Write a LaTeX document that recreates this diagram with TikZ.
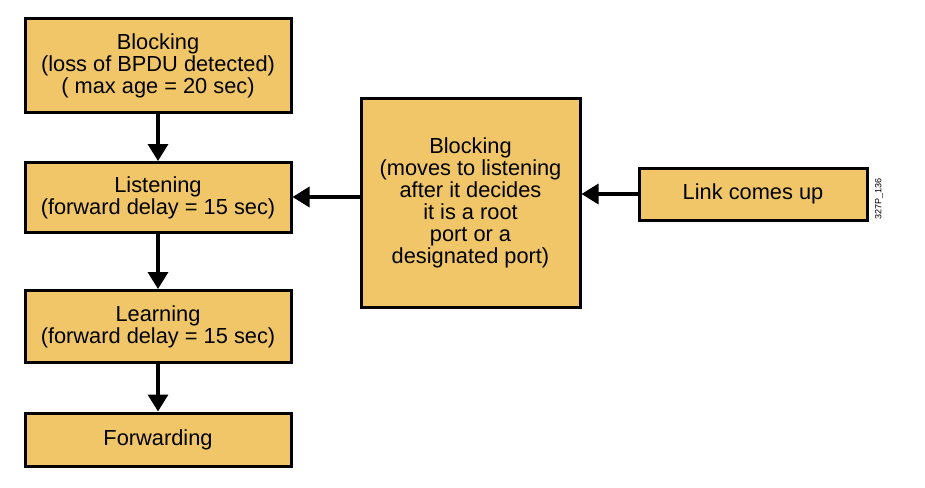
\documentclass[tikz,border=0pt]{standalone}
\usepackage{fontspec}
\setmainfont{Liberation Sans}
\usetikzlibrary{arrows.meta}
\definecolor{boxfill}{RGB}{240,198,105}
\begin{document}
\begin{tikzpicture}[x=1pt,y=-1pt,
  statebox/.style={draw=black,line width=3pt,fill=boxfill,inner sep=0pt,
    font=\fontsize{21.8}{22}\selectfont,align=center},
  arr/.style={line width=3.5pt,-{Triangle[width=20pt,length=17pt]}}]
\useasboundingbox (0,0) rectangle (925,487);
\node[statebox,minimum width=266pt,minimum height=93pt] (blk) at (158,65.5) {Blocking\\(loss of BPDU detected)\\( max age = 20 sec)};
\node[statebox,minimum width=266pt,minimum height=70pt] (lis) at (158,197.5) {Listening\\(forward delay = 15 sec)};
\node[statebox,minimum width=266pt,minimum height=72pt] (lrn) at (158,326.5) {Learning\\(forward delay = 15 sec)};
\node[statebox,minimum width=266pt,minimum height=53pt] (fwd) at (158,439.5) {Forwarding};
\node[statebox,minimum width=219pt,minimum height=209pt] (mid) at (470.5,202.5) {Blocking\\(moves to listening\\after it decides\\it is a root\\port or a\\designated port)};
\node[statebox,minimum width=228pt,minimum height=52pt] (lnk) at (753,194) {Link comes up};
\node[rotate=90,font=\fontsize{9}{10}\selectfont] (lbl) at (879,199) {327P\_136};
\draw[arr] (blk.south) -- (lis.north);
\draw[arr] (lis.south) -- (lrn.north);
\draw[arr] (lrn.south) -- (fwd.north);
\draw[arr] (mid.west |- 0,197) -- (lis.east |- 0,197);
\draw[arr] (lnk.west) -- (mid.east |- lnk.west);
\end{tikzpicture}
\end{document}
